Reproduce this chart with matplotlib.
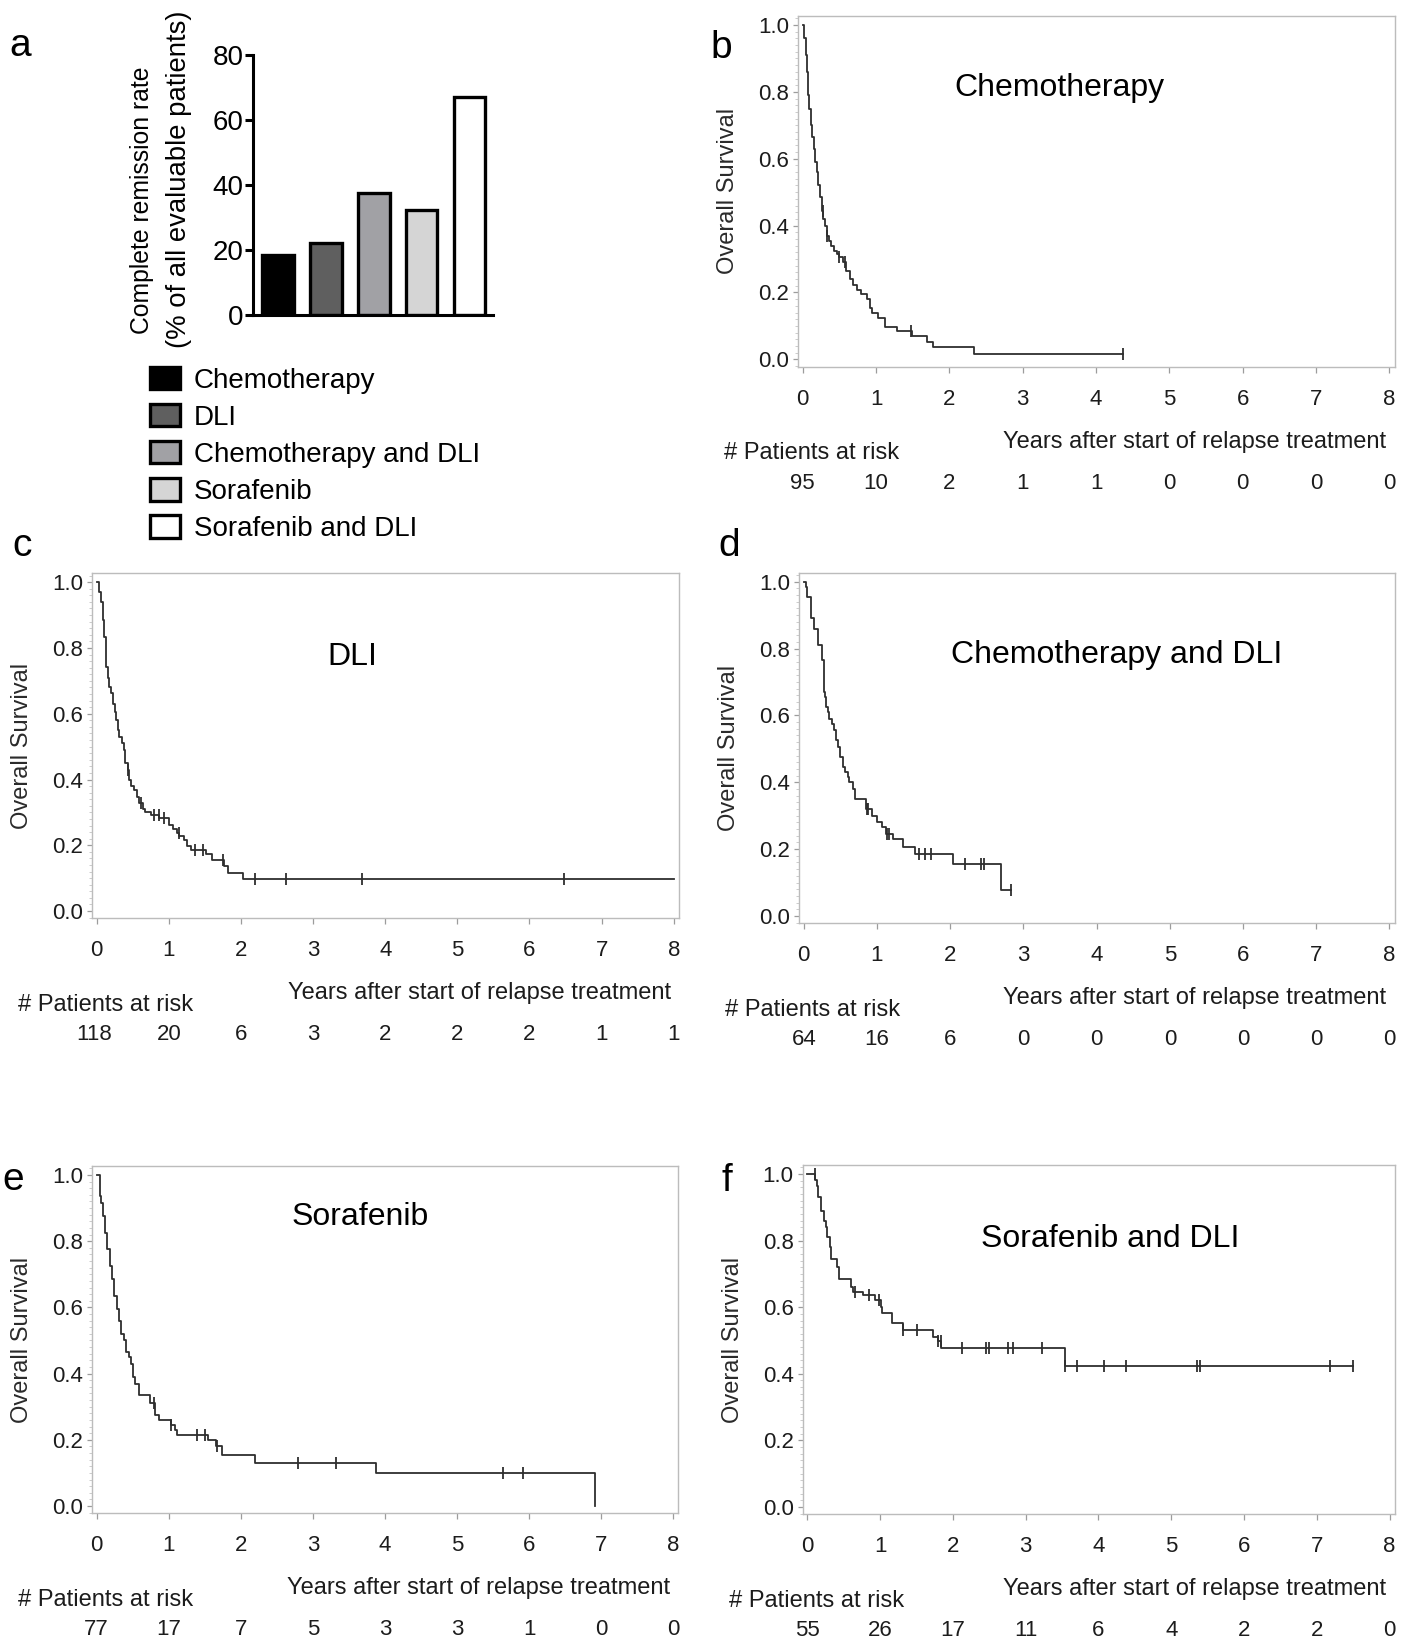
import matplotlib
matplotlib.use("Agg")
import matplotlib.pyplot as plt
import matplotlib.transforms as mtransforms
from matplotlib.ticker import MultipleLocator, FormatStrFormatter
import numpy as np

plt.rcParams['font.family'] = ['Liberation Sans', 'DejaVu Sans']

W, H = 1412, 1646

# ---------------- panel a: complete remission rate ----------------
cr_groups = ["Chemotherapy", "DLI", "Chemotherapy and DLI", "Sorafenib", "Sorafenib and DLI"]
cr_rate = [18.5, 22.1, 37.7, 32.4, 67.0]
cr_colors = ["#000000", "#5f5f5f", "#a1a1a5", "#d5d5d5", "#ffffff"]
cr_yticks = [0, 20, 40, 60, 80]

# ---------------- overall survival (Kaplan-Meier) ----------------
years = list(range(9))

chemo_t = [0, 0.02, 0.04, 0.055, 0.07, 0.09, 0.11, 0.13, 0.15, 0.17, 0.19, 0.21, 0.235, 0.26,
           0.28, 0.30, 0.33, 0.36, 0.39, 0.42, 0.46, 0.50, 0.55, 0.59, 0.64, 0.68, 0.74, 0.79,
           0.87, 0.91, 0.95, 1.03, 1.12, 1.28, 1.49, 1.69, 1.77, 2.34]
chemo_s = [1.0, 0.96, 0.91, 0.86, 0.79, 0.75, 0.70, 0.665, 0.63, 0.59, 0.56, 0.52, 0.485, 0.445,
           0.42, 0.40, 0.37, 0.355, 0.34, 0.325, 0.315, 0.305, 0.29, 0.265, 0.24, 0.223, 0.207, 0.195,
           0.18, 0.155, 0.14, 0.125, 0.098, 0.086, 0.071, 0.051, 0.036, 0.017]
chemo_end = 4.36
chemo_cens = [0.27, 0.335, 0.50, 0.57, 1.48, 4.36]
chemo_risk = [95, 10, 2, 1, 1, 0, 0, 0, 0]

dli_t = [0, 0.03, 0.06, 0.083, 0.106, 0.129, 0.15, 0.175, 0.199, 0.231, 0.25, 0.268, 0.291,
         0.314, 0.351, 0.374, 0.397, 0.43, 0.443, 0.476, 0.522, 0.554, 0.591, 0.637, 0.674,
         0.753, 0.868, 1.0, 1.053, 1.12, 1.145, 1.215, 1.247, 1.307, 1.515, 1.594, 1.769, 1.815, 2.03]
dli_s = [1.0, 0.97, 0.939, 0.884, 0.833, 0.742, 0.71, 0.682, 0.662, 0.631, 0.605, 0.581, 0.551,
         0.53, 0.51, 0.49, 0.449, 0.429, 0.399, 0.379, 0.369, 0.348, 0.328, 0.31, 0.30,
         0.293, 0.283, 0.263, 0.25, 0.237, 0.227, 0.217, 0.199, 0.187, 0.172, 0.155, 0.136, 0.116, 0.096]
dli_end = 8.0
dli_cens = [0.44, 0.61, 0.80, 0.86, 0.94, 1.14, 1.36, 1.48, 1.75, 2.19, 2.63, 3.68, 6.48]
dli_risk = [118, 20, 6, 3, 2, 2, 2, 1, 1]

chdli_t = [0, 0.03, 0.05, 0.10, 0.14, 0.20, 0.25, 0.27, 0.29, 0.31, 0.33, 0.35, 0.38, 0.41,
           0.44, 0.47, 0.50, 0.54, 0.57, 0.60, 0.62, 0.67, 0.70, 0.85, 0.93, 1.0, 1.07, 1.12,
           1.22, 1.35, 1.52, 2.04, 2.69]
chdli_s = [1.0, 0.984, 0.953, 0.89, 0.86, 0.81, 0.765, 0.67, 0.655, 0.625, 0.61, 0.59, 0.575, 0.555,
           0.525, 0.505, 0.475, 0.445, 0.43, 0.415, 0.40, 0.38, 0.35, 0.32, 0.30, 0.28, 0.265, 0.245,
           0.23, 0.207, 0.185, 0.155, 0.077]
chdli_end = 2.83
chdli_cens = [0.86, 0.88, 1.14, 1.16, 1.575, 1.65, 1.735, 2.20, 2.42, 2.46, 2.83]
chdli_risk = [64, 16, 6, 0, 0, 0, 0, 0, 0]

sora_t = [0, 0.04, 0.06, 0.09, 0.12, 0.15, 0.185, 0.21, 0.245, 0.28, 0.305, 0.34, 0.385, 0.41,
          0.445, 0.475, 0.50, 0.535, 0.59, 0.74, 0.81, 0.87, 1.03, 1.09, 1.12, 1.54, 1.65, 1.74,
          2.20, 3.88, 6.92]
sora_s = [1.0, 0.935, 0.915, 0.875, 0.825, 0.775, 0.725, 0.685, 0.635, 0.595, 0.56, 0.52, 0.50, 0.465,
          0.45, 0.43, 0.39, 0.37, 0.335, 0.31, 0.275, 0.26, 0.245, 0.23, 0.215, 0.20, 0.18, 0.155,
          0.13, 0.10, 0.0]
sora_end = 6.92
sora_cens = [0.79, 1.03, 1.39, 1.50, 1.67, 2.79, 3.32, 5.64, 5.92]
sora_risk = [77, 17, 7, 5, 3, 3, 1, 0, 0]

sdli_t = [0, 0.11, 0.13, 0.15, 0.19, 0.23, 0.25, 0.275, 0.31, 0.33, 0.40, 0.43, 0.60, 0.62,
          0.77, 0.93, 1.006, 1.02, 1.16, 1.31, 1.72, 1.79, 1.84, 3.535]
sdli_s = [1.0, 0.982, 0.964, 0.93, 0.89, 0.86, 0.84, 0.81, 0.78, 0.745, 0.72, 0.685, 0.662, 0.647,
          0.637, 0.622, 0.602, 0.582, 0.554, 0.532, 0.51, 0.497, 0.477, 0.423]
sdli_end = 7.50
sdli_cens = [0.10, 0.66, 0.84, 0.98, 1.31, 1.51, 1.80, 1.83, 2.13, 2.46, 2.49, 2.76, 2.82, 3.23,
             3.54, 3.70, 4.08, 4.38, 5.36, 5.39, 7.18, 7.50]
sdli_risk = [55, 26, 17, 11, 6, 4, 2, 2, 0]

LINE = "#2e2e2e"
BOX = "#bcbcbc"
TICK = "#9c9c9c"
TXT = "#1c1c1c"

fig = plt.figure(figsize=(W / 100, H / 100), dpi=100)


def add_axes_px(left, top, right, bottom):
    return fig.add_axes([left / W, 1 - bottom / H, (right - left) / W, (bottom - top) / H])


def ftext(x, y, s, **kw):
    return fig.text(x / W, 1 - y / H, s, **kw)


# ---------------- panel a ----------------
ax_a = add_axes_px(253, 55.1, 493, 315)
bars = ax_a.bar(range(len(cr_rate)), cr_rate, width=0.66, color=cr_colors,
                edgecolor="black", linewidth=2.4, zorder=2)
ax_a.set_xlim(-0.52, 4.49)
ax_a.set_ylim(0, 80)
ax_a.set_yticks(cr_yticks)
ax_a.set_xticks([])
for side in ("top", "right"):
    ax_a.spines[side].set_visible(False)
for side in ("left", "bottom"):
    ax_a.spines[side].set_linewidth(2.2)
ax_a.tick_params(axis="y", length=5.8, width=2.2, labelsize=20, pad=1)
ftext(141.7, 200, "Complete remission rate", rotation=90, ha="center", va="center", fontsize=17.8)
ftext(179, 179, "(% of all evaluable patients)", rotation=90, ha="center", va="center", fontsize=19.8)
fig.legend(bars.patches, cr_groups, loc="upper left", bbox_to_anchor=(150 / W, 1 - 367 / H),
           frameon=False, fontsize=20, handlelength=1.08, handleheight=0.86,
           handletextpad=0.5, labelspacing=0.37, borderpad=0, borderaxespad=0)
ftext(9.4, 56, "a", fontsize=28, ha="left", va="baseline")


# ---------------- KM panels ----------------
def km_panel(box, t, s, t_end, cens, risk, title, title_x, title_base, letter, letter_xy):
    left, top, right, bottom = box
    ax = add_axes_px(left, top, right, bottom)
    ax.set_xlim(-0.065, 8.07)
    ax.set_ylim(-0.022, 1.027)
    xs = list(t) + [t_end]
    ys = list(s) + [s[-1]]
    ax.step(xs, ys, where="post", color=LINE, lw=1.3)
    idx = np.searchsorted(np.asarray(t), np.asarray(cens), side="right") - 1
    ax.plot(cens, np.asarray(s)[idx], ls="none", marker="|", ms=9, mew=1.3, color=LINE)

    for sp in ax.spines.values():
        sp.set_color(BOX)
        sp.set_linewidth(1.0)
    ax.set_xticks(years)
    ax.set_yticks(np.round(np.arange(0, 1.01, 0.2), 1))
    ax.yaxis.set_minor_locator(MultipleLocator(0.02))
    ax.yaxis.set_major_formatter(FormatStrFormatter("%.1f"))
    ax.tick_params(axis="x", length=4.3, width=0.9, color=TICK, labelsize=16,
                   pad=11.5, labelcolor=TXT)
    ax.tick_params(axis="y", which="major", length=3.6, width=0.9, color=TICK,
                   labelsize=16, pad=3, labelcolor=TXT)
    ax.tick_params(axis="y", which="minor", length=2.2, width=0.6, color="#c4c4c4")

    trans = mtransforms.blended_transform_factory(ax.transData, fig.transFigure)
    ax.text(7.96, 1 - (bottom + 81) / H, "Years after start of relapse treatment",
            transform=trans, ha="right", va="baseline", fontsize=17, color=TXT)
    ftext(left - 74, bottom + 92.5, "# Patients at risk", ha="left", va="baseline",
          fontsize=17, color=TXT)
    for yr, n in zip(years, risk):
        ax.text(yr - (0.04 if n >= 100 else 0), 1 - (bottom + 122) / H, str(n), transform=trans,
                ha="center", va="baseline", fontsize=16, color=TXT)
    ftext(left - 70, (top + bottom) / 2, "Overall Survival", rotation=90, ha="center",
          va="center", fontsize=17, color="#2a2a2a")
    ftext(title_x, title_base, title, ha="center", va="baseline", fontsize=23, color="black")
    ftext(letter_xy[0], letter_xy[1], letter, ha="left", va="baseline", fontsize=28)
    return ax


km_panel((798, 16, 1394.6, 366.7), chemo_t, chemo_s, chemo_end, chemo_cens, chemo_risk,
         "Chemotherapy", 1059, 95.7, "b", (710, 58.5))
km_panel((92, 573.3, 678.8, 918.3), dli_t, dli_s, dli_end, dli_cens, dli_risk,
         "DLI", 352, 665, "c", (12.6, 556))
km_panel((799, 572.7, 1394.6, 923.3), chdli_t, chdli_s, chdli_end, chdli_cens, chdli_risk,
         "Chemotherapy and DLI", 1116.5, 663.3, "d", (718, 556))
km_panel((92, 1166, 678.3, 1513.3), sora_t, sora_s, sora_end, sora_cens, sora_risk,
         "Sorafenib", 360, 1225, "e", (2, 1189.5))
km_panel((802.7, 1165, 1394.6, 1514.3), sdli_t, sdli_s, sdli_end, sdli_cens, sdli_risk,
         "Sorafenib and DLI", 1110.3, 1246.7, "f", (721, 1191))

fig.savefig("out.png", dpi=100)
